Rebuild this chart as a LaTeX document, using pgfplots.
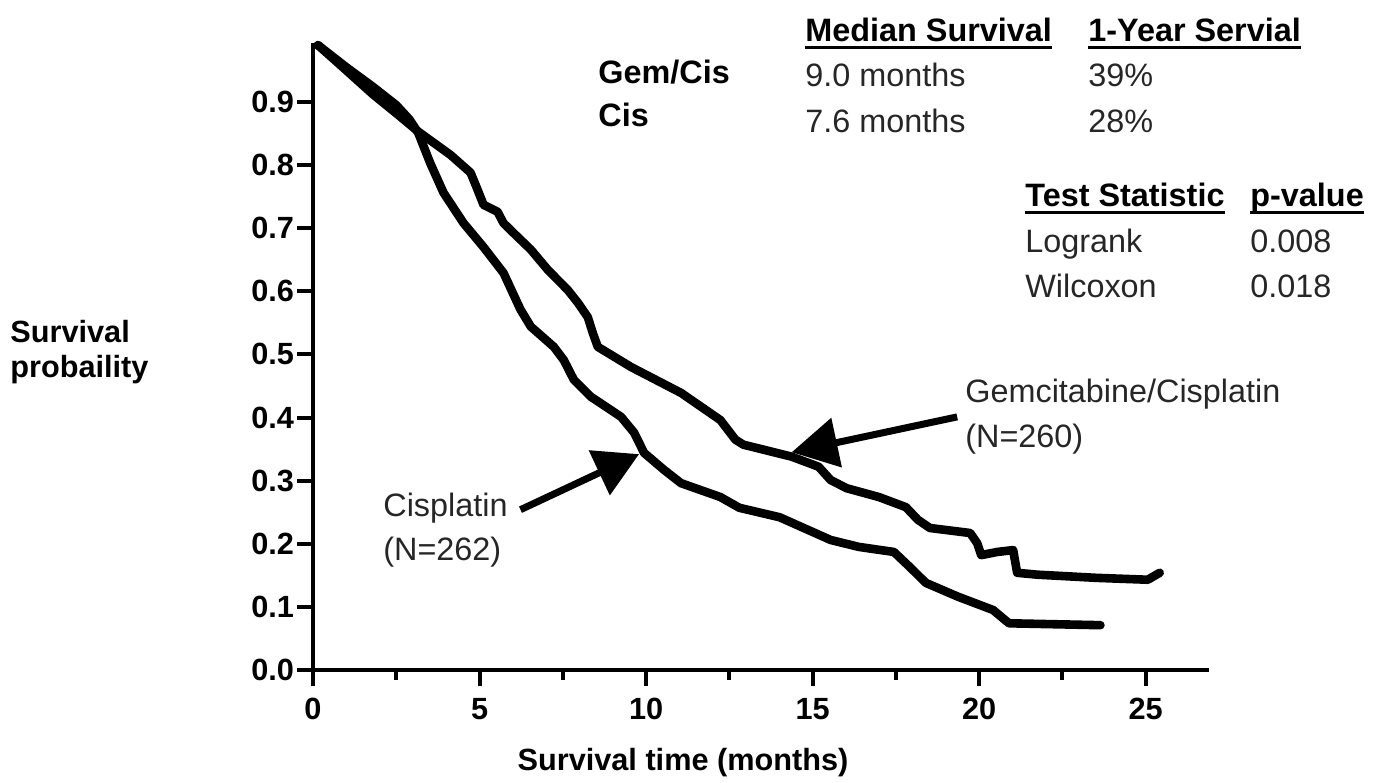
\documentclass[border=0pt]{standalone}
\usepackage{pgfplots}
\pgfplotsset{compat=1.18}
\usepackage{fontspec}
\setmainfont{Liberation Sans}
\usetikzlibrary{arrows.meta}
\definecolor{txt}{RGB}{38,38,38}
\newcommand\ul[1]{\setbox0\hbox{#1}\rlap{\rule[-3.3bp]{\wd0}{1.3bp}}\box0}
\newcommand\bigtxt{\fontsize{16.25}{19}\selectfont}
\newcommand\lbltxt{\fontsize{15.4}{18}\selectfont}
\begin{document}
\begin{tikzpicture}
\path (-156.5bp,-56.5bp) rectangle (534.5bp,335bp);
\begin{axis}[
 at={(0,0)}, anchor=origin,
 scale only axis, width=448bp, height=313.7bp,
 xmin=0, xmax=26.9, ymin=0, ymax=0.994,
 clip=false,
 axis lines=left, axis line style={-, line width=2bp},
 xtick={0,5,10,15,20,25}, minor xtick={2.5,7.5,12.5,17.5,22.5},
 ytick={0,0.1,0.2,0.3,0.4,0.5,0.6,0.7,0.8,0.9},
 tick align=outside, major tick length=8bp, minor tick length=5bp,
 every tick/.style={line width=2bp, black},
 minor tick style={line width=2bp, black},
 /pgf/number format/assume math mode=true,
 ticklabel style={font=\bfseries\lbltxt},
 xticklabel style={yshift=-2.5bp},
 yticklabel style={xshift=2bp, /pgf/number format/.cd, fixed, fixed zerofill, precision=1},
]
% Gemcitabine/Cisplatin
\addplot[line width=4.3bp, black, line join=round, line cap=round] coordinates {
(0.15,0.990) (1.0,0.950) (1.8,0.912) (2.5,0.882) (3.16,0.853)
(4.13,0.816) (4.73,0.788) (4.94,0.761) (5.12,0.737) (5.54,0.726)
(5.72,0.708) (5.93,0.697) (6.54,0.666) (7.05,0.634) (7.65,0.602)
(7.95,0.582) (8.25,0.559) (8.40,0.534) (8.55,0.512) (9.55,0.480)
(11.05,0.439) (12.23,0.396) (12.68,0.365) (12.92,0.357) (14.37,0.338)
(15.18,0.322) (15.54,0.301) (16.02,0.288) (16.99,0.274) (17.80,0.258)
(18.16,0.238) (18.52,0.225) (19.73,0.217) (19.94,0.201) (20.06,0.182)
(20.54,0.187) (21.02,0.190) (21.14,0.154) (21.75,0.151) (23.52,0.146)
(25.06,0.143) (25.42,0.154)
};
% Cisplatin
\addplot[line width=4.3bp, black, line join=round, line cap=round] coordinates {
(0.15,0.990) (1.0,0.955) (1.8,0.924) (2.5,0.895) (2.9,0.872) (3.16,0.851)
(3.52,0.803) (3.92,0.756) (4.52,0.708) (5.12,0.670) (5.72,0.629)
(6.23,0.571) (6.54,0.544) (7.23,0.512) (7.53,0.491) (7.83,0.460)
(8.34,0.433) (9.25,0.401) (9.64,0.376) (9.94,0.344) (10.54,0.317)
(11.05,0.296) (12.23,0.274) (12.80,0.257) (14.01,0.242) (15.54,0.206)
(16.39,0.195) (17.44,0.187) (17.92,0.163) (18.40,0.138) (19.37,0.116)
(20.42,0.095) (20.78,0.079) (20.90,0.074) (23.64,0.071)
};
\draw[line width=3.5bp, -{Triangle[length=22bp,width=24bp]}] (axis cs:6.23,0.254) -- (axis cs:9.79,0.342);
\draw[line width=3.5bp, -{Triangle[length=23bp,width=24.5bp]}] (axis cs:19.34,0.401) -- (axis cs:14.37,0.345);
\end{axis}
\begin{scope}[every node/.style={inner sep=0pt, anchor=base west}]
\node[font=\bfseries\lbltxt] at (-151.5bp,163.5bp) {Survival};
\node[font=\bfseries\lbltxt] at (-151.5bp,146bp) {probaility};
\node[font=\bfseries\lbltxt, anchor=base] at (185bp,-50bp) {Survival time (months)};
\node[font=\bfseries\bigtxt] at (142.5bp,293bp) {Gem/Cis};
\node[font=\bfseries\bigtxt] at (142.5bp,271.5bp) {Cis};
\node[font=\bfseries\bigtxt] at (246bp,314bp) {\ul{Median Survival}};
\node[font=\bigtxt, text=txt] at (246bp,291.5bp) {9.0 months};
\node[font=\bigtxt, text=txt] at (246bp,268.5bp) {7.6 months};
\node[font=\bfseries\bigtxt] at (387.5bp,314bp) {\ul{1-Year Servial}};
\node[font=\bigtxt, text=txt] at (387.5bp,291.5bp) {39\%};
\node[font=\bigtxt, text=txt] at (387.5bp,268.5bp) {28\%};
\node[font=\bfseries\bigtxt] at (356bp,231.5bp) {\ul{Test Statistic}};
\node[font=\bfseries\bigtxt] at (468.5bp,231.5bp) {\ul{p-value}};
\node[font=\bigtxt, text=txt] at (356bp,208.5bp) {Logrank};
\node[font=\bigtxt, text=txt] at (356bp,186bp) {Wilcoxon};
\node[font=\bigtxt, text=txt] at (468.5bp,208.5bp) {0.008};
\node[font=\bigtxt, text=txt] at (468.5bp,186bp) {0.018};
\node[font=\bigtxt, text=txt] at (326bp,133.5bp) {Gemcitabine/Cisplatin};
\node[font=\bigtxt, text=txt] at (326bp,111bp) {(N=260)};
\node[font=\bigtxt, text=txt] at (35bp,76.5bp) {Cisplatin};
\node[font=\bigtxt, text=txt] at (35bp,54.5bp) {(N=262)};
\end{scope}
\end{tikzpicture}
\end{document}
